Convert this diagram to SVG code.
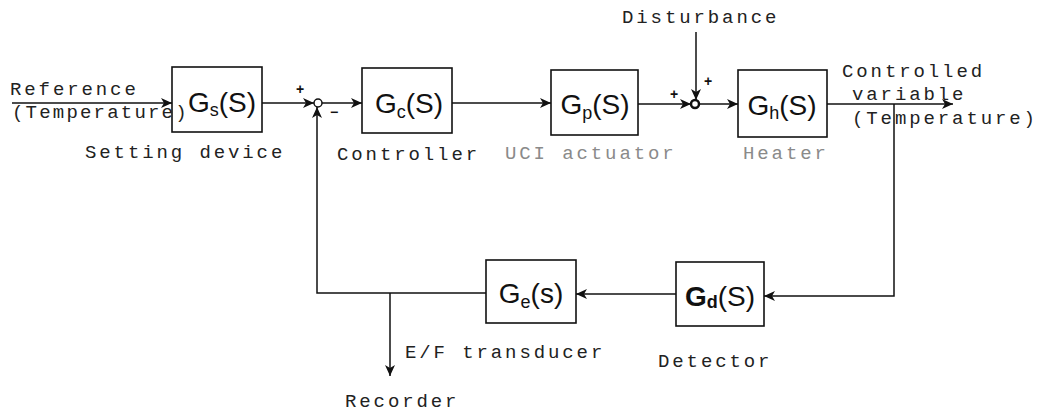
<svg xmlns="http://www.w3.org/2000/svg" width="1047" height="418" viewBox="0 0 1047 418">
<style>
.bg{fill:#fff}
.box{fill:none;stroke:#111;stroke-width:1.6}
.ln{fill:none;stroke:#111;stroke-width:1.5}
.arr{marker-end:url(#ah)}
.lbl{font-family:"Liberation Mono","DejaVu Sans Mono",monospace;font-size:19px;letter-spacing:2.9px;fill:#222}
.faint{fill:#8a8a8a}
.tf{font-family:"Liberation Sans","DejaVu Sans",sans-serif;font-size:28px;fill:#111;text-anchor:middle}
.sub{font-size:18px}
.sgn{font-family:"Liberation Sans","DejaVu Sans",sans-serif;font-size:14px;font-weight:bold;fill:#111;text-anchor:middle}
</style>
<defs>
<marker id="ah" markerUnits="userSpaceOnUse" markerWidth="12" markerHeight="10" refX="11" refY="5" orient="auto">
<path d="M0,0 L11,5 L0,10 L3,5 z" fill="#111"/>
</marker>
</defs>
<rect class="bg" width="1047" height="418"/>

<g id="connectors">
<line class="ln arr" x1="12" y1="103" x2="172" y2="103"/>
<line class="ln arr" x1="262" y1="103" x2="314" y2="103"/>
<circle class="ln" cx="318" cy="103" r="4"/>
<line class="ln arr" x1="322" y1="103" x2="362" y2="103"/>
<line class="ln arr" x1="452" y1="103" x2="551" y2="103"/>
<line class="ln arr" x1="638" y1="104" x2="691" y2="104"/>
<circle class="ln" cx="695" cy="104" r="4" style="stroke-width:2.5"/>
<line class="ln arr" x1="696" y1="32" x2="696" y2="100"/>
<line class="ln arr" x1="699" y1="104" x2="738" y2="104"/>
<line class="ln arr" x1="827" y1="104" x2="953" y2="104"/>
<polyline class="ln arr" points="894,104 894,296 764,296"/>
<line class="ln arr" x1="676" y1="294" x2="576" y2="294"/>
<polyline class="ln arr" points="486,293 317,293 317,107"/>
<line class="ln arr" x1="390" y1="293" x2="390" y2="376"/>
<text class="sgn" x="300" y="94">+</text>
<text class="sgn" x="334" y="117">−</text>
<text class="sgn" x="674" y="99">+</text>
<text class="sgn" x="708" y="86">+</text>
</g>

<g id="Gs">
<rect class="box" x="172" y="67" width="90" height="65"/>
<text class="tf" x="222" y="112">G<tspan class="sub" dy="4">s</tspan><tspan dy="-4">(S)</tspan></text>
</g>
<g id="Gc">
<rect class="box" x="362" y="68" width="90" height="65"/>
<text class="tf" x="409" y="113">G<tspan class="sub" dy="5">c</tspan><tspan dy="-5">(S)</tspan></text>
</g>
<g id="Gp">
<rect class="box" x="551" y="70" width="87" height="65"/>
<text class="tf" x="595" y="114">G<tspan class="sub" dy="5">p</tspan><tspan dy="-5">(S)</tspan></text>
</g>
<g id="Gh">
<rect class="box" x="738" y="70" width="89" height="67"/>
<text class="tf" x="782" y="115">G<tspan class="sub" dy="4">h</tspan><tspan dy="-4">(S)</tspan></text>
</g>
<g id="Gd">
<rect class="box" x="676" y="262" width="88" height="64"/>
<text class="tf" x="720" y="306" font-weight="bold">G<tspan class="sub" dy="2">d</tspan><tspan dy="-2" font-weight="normal">(S)</tspan></text>
</g>
<g id="Ge">
<rect class="box" x="486" y="260" width="90" height="63"/>
<text class="tf" x="531" y="303">G<tspan class="sub" dy="5">e</tspan><tspan dy="-5">(s)</tspan></text>
</g>

<g id="labels">
<text class="lbl" x="10" y="95">Reference</text>
<text class="lbl" x="12" y="118" style="letter-spacing:2.2px">(Temperature)</text>
<text class="lbl" x="85" y="158">Setting device</text>
<text class="lbl" x="337" y="160">Controller</text>
<text class="lbl faint" x="505" y="159">UCI actuator</text>
<text class="lbl faint" x="743" y="159">Heater</text>
<text class="lbl" x="622" y="23">Disturbance</text>
<text class="lbl" x="842" y="77">Controlled</text>
<text class="lbl" x="852" y="100">variable</text>
<text class="lbl" x="852" y="124">(Temperature)</text>
<text class="lbl" x="405" y="358">E/F transducer</text>
<text class="lbl" x="658" y="367">Detector</text>
<text class="lbl" x="345" y="407">Recorder</text>
</g>
</svg>
